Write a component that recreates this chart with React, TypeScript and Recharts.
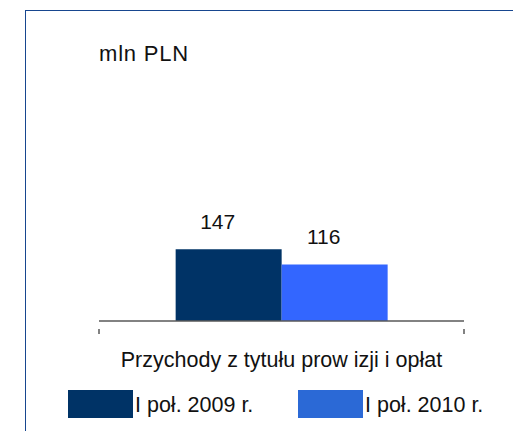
import React from "react";
import { BarChart, Bar, XAxis, YAxis, LabelList, Legend } from "recharts";

const categories = ["Przychody z tytułu prow izji i opłat"];
const series2009 = [147];
const series2010 = [116];
const seriesNames = ["I poł. 2009 r.", "I poł. 2010 r."];
const unitLabel = "mln PLN";

const data = categories.map((c, i) => ({ name: c, a: series2009[i], b: series2010[i] }));

const W = 513;
const H = 431;
const AXIS_H = 30;
const LEGEND_H = 40;
const margin = { top: 77, right: 49, bottom: 110 - AXIS_H - LEGEND_H, left: 99 };
const plotW = W - margin.left - margin.right;
const FONT = "'Liberation Sans', Arial, sans-serif";

const CatTick = (props: any) => {
  const { x, y, payload } = props;
  return (
    <g>
      <line x1={x - plotW / 2} y1={y} x2={x - plotW / 2} y2={y + 5} stroke="#595959" strokeWidth={1.5} />
      <line x1={x + plotW / 2} y1={y} x2={x + plotW / 2} y2={y + 5} stroke="#595959" strokeWidth={1.5} />
      <text x={x} y={y + 38} textAnchor="middle" fontFamily={FONT} fontSize={21.5} fill="#111">
        {payload.value}
      </text>
    </g>
  );
};

const ValLabel = (props: any) => {
  const { x, y, width, value } = props;
  return (
    <text x={x + width / 2 - 11} y={y - 20} textAnchor="middle" fontFamily={FONT} fontSize={21} fill="#111">
      {value}
    </text>
  );
};

const legendColors = ["#003366", "#2B69D6"];

const LegendContent = () => (
  <div style={{ position: "relative", width: W, height: LEGEND_H }}>
    {seriesNames.map((n, i) => (
      <div key={n} style={{ position: "absolute", left: i === 0 ? 68 : 298, top: 0, display: "flex", alignItems: "center" }}>
        <div style={{ width: 65, height: 28, background: legendColors[i] }} />
        <span style={{ fontFamily: FONT, fontSize: 21.5, color: "#111", marginLeft: 2, lineHeight: "28px", position: "relative", top: 1 }}>{n}</span>
      </div>
    ))}
  </div>
);

export default function App() {
  return (
    <div style={{ position: "absolute", left: 0, top: 0, width: W, height: H, background: "#fff" }}>
      <div style={{ position: "absolute", left: 25, top: 10, width: W - 25, height: H - 10, borderTop: "1.5px solid #17468f", borderLeft: "1.5px solid #17468f", boxSizing: "border-box" }} />
      <div style={{ position: "absolute", left: 99, top: 42, fontFamily: FONT, fontSize: 22, letterSpacing: 0.8, color: "#111", lineHeight: "24px" }}>{unitLabel}</div>
      <div style={{ position: "absolute", left: 0, top: 0 }}>
        <BarChart width={W} height={H} data={data} margin={margin} barCategoryGap="21%" barGap={0}>
          <XAxis dataKey="name" height={AXIS_H} axisLine={{ stroke: "#595959", strokeWidth: 1.5 }} tickLine={false} tick={<CatTick />} interval={0} />
          <YAxis hide domain={[0, 500]} />
          <Legend verticalAlign="bottom" height={LEGEND_H} content={<LegendContent />} wrapperStyle={{ position: "absolute", left: 0, top: 390, width: W, height: LEGEND_H }} />
          <Bar dataKey="a" name={seriesNames[0]} fill="#003366" isAnimationActive={false}>
            <LabelList dataKey="a" content={<ValLabel />} />
          </Bar>
          <Bar dataKey="b" name={seriesNames[1]} fill="#3366FF" isAnimationActive={false}>
            <LabelList dataKey="b" content={<ValLabel />} />
          </Bar>
        </BarChart>
      </div>
    </div>
  );
}
